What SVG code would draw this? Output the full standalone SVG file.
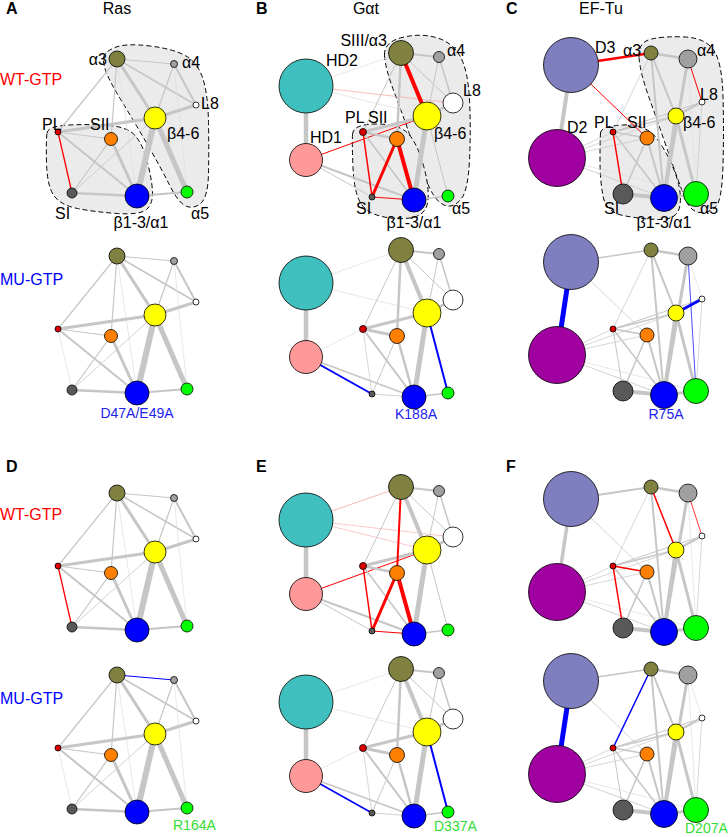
<svg xmlns="http://www.w3.org/2000/svg" width="728" height="837" viewBox="0 0 728 837">
<style>
text{font-family:"Liberation Sans",Arial,sans-serif;font-size:16px;fill:#000}
.pl{font-weight:bold;font-size:16px}
.wt{fill:#ff0000;font-size:16px}
.mu{fill:#0000ff;font-size:16px}
.mb{fill:#2222ee;font-size:14px}
.mg{fill:#33dd33;font-size:14px}
.hull{fill:#ebebeb;stroke:#000;stroke-width:1;stroke-dasharray:5 3}
.e line{stroke:#c6c6c6;fill:none}
.e line.f{stroke:#dedede;stroke-width:0.7}
.e line.r{stroke:#ff0000}
.e line.b{stroke:#0000ff}
.e line.p{stroke:#f5a5a5}
circle{stroke:#000;stroke-width:0.8}
.ol{fill:#808040}.gr{fill:#a0a0a0}.wh{fill:#fff}.ye{fill:#ffff00}.rd{fill:#dd0000}.or{fill:#ff8000}.dg{fill:#595959}.bl{fill:#0000ff}.gn{fill:#00ff00}.tl{fill:#40bfbf}.pk{fill:#ff9999}.d3{fill:#7f7fbf}.d2{fill:#a000a0}
</style>

<!-- Titles and row labels -->
<text class="pl" x="6" y="14">A</text>
<text class="pl" x="256" y="14">B</text>
<text class="pl" x="506" y="14">C</text>
<text class="pl" x="6" y="472">D</text>
<text class="pl" x="256" y="472">E</text>
<text class="pl" x="506" y="472">F</text>
<text x="117" y="14" text-anchor="middle">Ras</text>
<text x="366" y="14" text-anchor="middle">Gαt</text>
<text x="601" y="14" text-anchor="middle">EF-Tu</text>
<text class="wt" x="0" y="85">WT-GTP</text>
<text class="mu" x="0" y="285">MU-GTP</text>
<text class="wt" x="0" y="520">WT-GTP</text>
<text class="mu" x="0" y="704">MU-GTP</text>

<!-- ================= Panel A WT ================= -->
<g id="panelA-WT">
<path class="hull" d="M103.5,58 Q104,52 115,47.5 Q126,43 150,46 Q174,49 186,56 Q198,63 203,79 Q208,95 208.5,122.5 Q209,150 208.5,173 Q208,196 201.5,202.5 Q195,209 187,206.5 Q179,204 169.5,185 Q160,166 146,142 Q132,118 121,100 Q110,82 106.5,73 Q103,64 103.5,58 Z"/>
<path class="hull" d="M47,133 Q48,126 69,125 Q90,124 109,125.5 Q128,127 135.5,136 Q143,145 147.5,162.5 Q152,180 152.5,192 Q153,204 146.5,209.5 Q140,215 117.5,213.5 Q95,212 77.5,208.5 Q60,205 53.5,195 Q47,185 46.5,162.5 Q46,140 47,133 Z"/>
<g id="A1-edges" class="e">
<line x1="117" y1="59" x2="174" y2="64" stroke-width="1"/>
<line x1="117" y1="59" x2="196" y2="105" stroke-width="1.5"/>
<line x1="117" y1="59" x2="155" y2="118" stroke-width="3"/>
<line x1="117" y1="59" x2="58" y2="132" stroke-width="1.2"/>
<line x1="117" y1="59" x2="111" y2="139" stroke-width="1.2"/>
<line class="f" x1="117" y1="59" x2="137" y2="196"/>
<line x1="174" y1="64" x2="196" y2="105" stroke-width="2"/>
<line x1="174" y1="64" x2="155" y2="118" stroke-width="1.2"/>
<line class="f" x1="174" y1="64" x2="187" y2="192"/>
<line x1="155" y1="118" x2="196" y2="105" stroke-width="3"/>
<line x1="155" y1="118" x2="58" y2="132" stroke-width="3"/>
<line x1="155" y1="118" x2="137" y2="196" stroke-width="6"/>
<line x1="155" y1="118" x2="187" y2="192" stroke-width="5"/>
<line x1="155" y1="118" x2="72" y2="193" stroke-width="0.8"/>
<line x1="111" y1="139" x2="72" y2="193" stroke-width="1.2"/>
<line x1="111" y1="139" x2="137" y2="196" stroke-width="3"/>
<line x1="58" y1="132" x2="111" y2="139" stroke-width="1.2"/>
<line x1="58" y1="132" x2="137" y2="196" stroke-width="2"/>
<line x1="72" y1="193" x2="137" y2="196" stroke-width="2.5"/>
<line x1="137" y1="196" x2="187" y2="192" stroke-width="2"/>
<line class="r" x1="58" y1="132" x2="72" y2="193" stroke-width="1.3"/>
</g>
<g id="A1-a3"><circle class="ol" cx="117" cy="59" r="8"/><text x="107" y="65" text-anchor="end">α3</text></g>
<g id="A1-a4"><circle class="gr" cx="174" cy="64" r="3.5"/><text x="182" y="68">α4</text></g>
<g id="A1-L8"><circle class="wh" cx="196" cy="105" r="3"/><text x="201" y="109">L8</text></g>
<g id="A1-b46"><circle class="ye" cx="155" cy="118" r="11"/><text x="167" y="139">β4-6</text></g>
<g id="A1-PL"><circle class="rd" cx="58" cy="132" r="3"/><text x="42" y="130">PL</text></g>
<g id="A1-SII"><circle class="or" cx="111" cy="139" r="6.5"/><text x="90" y="130">SII</text></g>
<g id="A1-SI"><circle class="dg" cx="72" cy="193" r="5"/><text x="55" y="219">SI</text></g>
<g id="A1-b13"><circle class="bl" cx="137" cy="196" r="12"/><text x="141" y="228" text-anchor="middle">β1-3/α1</text></g>
<g id="A1-a5"><circle class="gn" cx="187" cy="192" r="6"/><text x="191" y="219">α5</text></g>
</g>

<!-- ================= Panel A MU ================= -->
<g id="panelA-MU" transform="translate(0,197)">
<g id="A2-edges" class="e">
<line x1="117" y1="59" x2="174" y2="64" stroke-width="1"/>
<line x1="117" y1="59" x2="196" y2="105" stroke-width="1.5"/>
<line x1="117" y1="59" x2="155" y2="118" stroke-width="3"/>
<line x1="117" y1="59" x2="58" y2="132" stroke-width="1.2"/>
<line x1="117" y1="59" x2="111" y2="139" stroke-width="1.2"/>
<line class="f" x1="117" y1="59" x2="137" y2="196"/>
<line x1="174" y1="64" x2="196" y2="105" stroke-width="2"/>
<line x1="174" y1="64" x2="155" y2="118" stroke-width="1.2"/>
<line class="f" x1="174" y1="64" x2="187" y2="192"/>
<line x1="155" y1="118" x2="196" y2="105" stroke-width="3"/>
<line x1="155" y1="118" x2="58" y2="132" stroke-width="3"/>
<line x1="155" y1="118" x2="137" y2="196" stroke-width="6"/>
<line x1="155" y1="118" x2="187" y2="192" stroke-width="5"/>
<line x1="155" y1="118" x2="72" y2="193" stroke-width="0.8"/>
<line x1="111" y1="139" x2="72" y2="193" stroke-width="1.2"/>
<line x1="111" y1="139" x2="137" y2="196" stroke-width="3"/>
<line x1="58" y1="132" x2="111" y2="139" stroke-width="1.2"/>
<line x1="58" y1="132" x2="137" y2="196" stroke-width="2"/>
<line x1="72" y1="193" x2="137" y2="196" stroke-width="2.5"/>
<line x1="137" y1="196" x2="187" y2="192" stroke-width="2"/>
<line class="f" x1="58" y1="132" x2="72" y2="193"/>
</g>
<g id="A2-a3"><circle class="ol" cx="117" cy="59" r="8"/></g>
<g id="A2-a4"><circle class="gr" cx="174" cy="64" r="3.5"/></g>
<g id="A2-L8"><circle class="wh" cx="196" cy="105" r="3"/></g>
<g id="A2-b46"><circle class="ye" cx="155" cy="118" r="11"/></g>
<g id="A2-PL"><circle class="rd" cx="58" cy="132" r="3"/></g>
<g id="A2-SII"><circle class="or" cx="111" cy="139" r="6.5"/></g>
<g id="A2-SI"><circle class="dg" cx="72" cy="193" r="5"/></g>
<g id="A2-b13"><circle class="bl" cx="137" cy="196" r="12"/><text class="mb" x="137" y="221" text-anchor="middle">D47A/E49A</text></g>
<g id="A2-a5"><circle class="gn" cx="187" cy="192" r="6"/></g>
</g>

<!-- ================= Panel D WT ================= -->
<g id="panelD-WT" transform="translate(0,434)">
<g id="D1-edges" class="e">
<line x1="117" y1="59" x2="174" y2="64" stroke-width="1"/>
<line x1="117" y1="59" x2="196" y2="105" stroke-width="1.5"/>
<line x1="117" y1="59" x2="155" y2="118" stroke-width="3"/>
<line x1="117" y1="59" x2="58" y2="132" stroke-width="1.2"/>
<line x1="117" y1="59" x2="111" y2="139" stroke-width="1.2"/>
<line class="f" x1="117" y1="59" x2="137" y2="196"/>
<line x1="174" y1="64" x2="196" y2="105" stroke-width="2"/>
<line x1="174" y1="64" x2="155" y2="118" stroke-width="1.2"/>
<line class="f" x1="174" y1="64" x2="187" y2="192"/>
<line x1="155" y1="118" x2="196" y2="105" stroke-width="3"/>
<line x1="155" y1="118" x2="58" y2="132" stroke-width="3"/>
<line x1="155" y1="118" x2="137" y2="196" stroke-width="6"/>
<line x1="155" y1="118" x2="187" y2="192" stroke-width="5"/>
<line x1="155" y1="118" x2="72" y2="193" stroke-width="0.8"/>
<line x1="111" y1="139" x2="72" y2="193" stroke-width="1.2"/>
<line x1="111" y1="139" x2="137" y2="196" stroke-width="3"/>
<line x1="58" y1="132" x2="111" y2="139" stroke-width="1.2"/>
<line x1="58" y1="132" x2="137" y2="196" stroke-width="2"/>
<line x1="72" y1="193" x2="137" y2="196" stroke-width="2.5"/>
<line x1="137" y1="196" x2="187" y2="192" stroke-width="2"/>
<line class="r" x1="58" y1="132" x2="72" y2="193" stroke-width="1.3"/>
</g>
<g id="D1-a3"><circle class="ol" cx="117" cy="59" r="8"/></g>
<g id="D1-a4"><circle class="gr" cx="174" cy="64" r="3.5"/></g>
<g id="D1-L8"><circle class="wh" cx="196" cy="105" r="3"/></g>
<g id="D1-b46"><circle class="ye" cx="155" cy="118" r="11"/></g>
<g id="D1-PL"><circle class="rd" cx="58" cy="132" r="3"/></g>
<g id="D1-SII"><circle class="or" cx="111" cy="139" r="6.5"/></g>
<g id="D1-SI"><circle class="dg" cx="72" cy="193" r="5"/></g>
<g id="D1-b13"><circle class="bl" cx="137" cy="196" r="12"/></g>
<g id="D1-a5"><circle class="gn" cx="187" cy="192" r="6"/></g>
</g>

<!-- ================= Panel D MU ================= -->
<g id="panelD-MU" transform="translate(0,616)">
<g id="D2-edges" class="e">
<line class="b" x1="117" y1="59" x2="174" y2="64" stroke-width="1"/>
<line x1="117" y1="59" x2="196" y2="105" stroke-width="1.5"/>
<line x1="117" y1="59" x2="155" y2="118" stroke-width="3"/>
<line x1="117" y1="59" x2="58" y2="132" stroke-width="1.2"/>
<line x1="117" y1="59" x2="111" y2="139" stroke-width="1.2"/>
<line class="f" x1="117" y1="59" x2="137" y2="196"/>
<line x1="174" y1="64" x2="196" y2="105" stroke-width="2"/>
<line x1="174" y1="64" x2="155" y2="118" stroke-width="1.2"/>
<line class="f" x1="174" y1="64" x2="187" y2="192"/>
<line x1="155" y1="118" x2="196" y2="105" stroke-width="3"/>
<line x1="155" y1="118" x2="58" y2="132" stroke-width="3"/>
<line x1="155" y1="118" x2="137" y2="196" stroke-width="6"/>
<line x1="155" y1="118" x2="187" y2="192" stroke-width="5"/>
<line x1="155" y1="118" x2="72" y2="193" stroke-width="0.8"/>
<line x1="111" y1="139" x2="72" y2="193" stroke-width="1.2"/>
<line x1="111" y1="139" x2="137" y2="196" stroke-width="3"/>
<line x1="58" y1="132" x2="111" y2="139" stroke-width="1.2"/>
<line x1="58" y1="132" x2="137" y2="196" stroke-width="2"/>
<line x1="72" y1="193" x2="137" y2="196" stroke-width="2.5"/>
<line x1="137" y1="196" x2="187" y2="192" stroke-width="2"/>
<line class="f" x1="58" y1="132" x2="72" y2="193"/>
</g>
<g id="D2-a3"><circle class="ol" cx="117" cy="59" r="8"/></g>
<g id="D2-a4"><circle class="gr" cx="174" cy="64" r="3.5"/></g>
<g id="D2-L8"><circle class="wh" cx="196" cy="105" r="3"/></g>
<g id="D2-b46"><circle class="ye" cx="155" cy="118" r="11"/></g>
<g id="D2-PL"><circle class="rd" cx="58" cy="132" r="3"/></g>
<g id="D2-SII"><circle class="or" cx="111" cy="139" r="6.5"/></g>
<g id="D2-SI"><circle class="dg" cx="72" cy="193" r="5"/></g>
<g id="D2-b13"><circle class="bl" cx="137" cy="196" r="12"/></g>
<g id="D2-a5"><circle class="gn" cx="187" cy="192" r="6"/><text class="mg" x="173" y="214">R164A</text></g>
</g>

<!-- ================= Panel B WT ================= -->
<g id="panelB-WT">
<path class="hull" d="M384.5,55 Q384,42 402,37.5 Q420,33 436,37.5 Q452,42 460,56 Q468,70 469.5,100 Q471,130 469.5,160 Q468,190 461.5,198.5 Q455,207 447.5,206 Q440,205 433.5,195 Q427,185 415.5,151.5 Q404,118 394.5,93 Q385,68 384.5,55 Z"/>
<path class="hull" d="M352.5,134.5 Q353,124 376.5,124 Q400,124 409,134.5 Q418,145 424,167.5 Q430,190 427.5,203 Q425,216 410,218 Q395,220 380,216 Q365,212 359.5,201 Q354,190 353,167.5 Q352,145 352.5,134.5 Z"/>
<g id="B1-edges" class="e">
<line x1="306" y1="86" x2="306" y2="160" stroke-width="4.5"/>
<line class="f" x1="306" y1="86" x2="401" y2="53"/>
<line class="f" x1="306" y1="86" x2="427" y2="116"/>
<line class="p" x1="306" y1="86" x2="453" y2="103" stroke-width="0.7"/>
<line x1="306" y1="160" x2="414" y2="200" stroke-width="2"/>
<line x1="306" y1="160" x2="372" y2="197" stroke-width="1"/>
<line class="r" x1="306" y1="160" x2="427" y2="116" stroke-width="1"/>
<line x1="401" y1="53" x2="439" y2="57" stroke-width="2"/>
<line x1="401" y1="53" x2="453" y2="103" stroke-width="1"/>
<line x1="401" y1="53" x2="363" y2="132" stroke-width="1"/>
<line x1="401" y1="53" x2="397" y2="139" stroke-width="2.5"/>
<line x1="439" y1="57" x2="453" y2="103" stroke-width="1.5"/>
<line x1="439" y1="57" x2="427" y2="116" stroke-width="1"/>
<line x1="427" y1="116" x2="453" y2="103" stroke-width="3"/>
<line x1="427" y1="116" x2="363" y2="132" stroke-width="3"/>
<line x1="427" y1="116" x2="414" y2="200" stroke-width="5"/>
<line x1="427" y1="116" x2="448" y2="196" stroke-width="1"/>
<line x1="363" y1="132" x2="397" y2="139" stroke-width="2.5"/>
<line x1="363" y1="132" x2="414" y2="200" stroke-width="1.5"/>
<line x1="414" y1="200" x2="448" y2="196" stroke-width="1.5"/>
<line class="r" x1="401" y1="53" x2="427" y2="116" stroke-width="4"/>
<line class="r" x1="363" y1="132" x2="372" y2="197" stroke-width="1.5"/>
<line class="r" x1="397" y1="139" x2="372" y2="197" stroke-width="3"/>
<line class="r" x1="397" y1="139" x2="414" y2="200" stroke-width="4"/>
<line class="r" x1="372" y1="197" x2="414" y2="200" stroke-width="1"/>
</g>
<g id="B1-HD2"><circle class="tl" cx="306" cy="86" r="27"/><text x="326" y="66">HD2</text></g>
<g id="B1-HD1"><circle class="pk" cx="306" cy="160" r="16.5"/><text x="310" y="143">HD1</text></g>
<g id="B1-a3"><circle class="ol" cx="401" cy="53" r="12.5"/><text x="387" y="46" text-anchor="end">SIII/α3</text></g>
<g id="B1-a4"><circle class="gr" cx="439" cy="57" r="5.5"/><text x="447" y="56">α4</text></g>
<g id="B1-L8"><circle class="wh" cx="453" cy="103" r="10"/><text x="463" y="96">L8</text></g>
<g id="B1-b46"><circle class="ye" cx="427" cy="116" r="14"/><text x="434" y="139">β4-6</text></g>
<g id="B1-PL"><circle class="rd" cx="363" cy="132" r="3.5"/><text x="345" y="123">PL</text></g>
<g id="B1-SII"><circle class="or" cx="397" cy="139" r="7.5"/><text x="368" y="123">SII</text></g>
<g id="B1-SI"><circle class="dg" cx="372" cy="197" r="3"/><text x="356" y="214">SI</text></g>
<g id="B1-b13"><circle class="bl" cx="414" cy="200" r="12"/><text x="414" y="228" text-anchor="middle">β1-3/α1</text></g>
<g id="B1-a5"><circle class="gn" cx="448" cy="196" r="6"/><text x="452" y="214">α5</text></g>
</g>

<!-- ================= Panel B MU ================= -->
<g id="panelB-MU" transform="translate(0,197)">
<g id="B2-edges" class="e">
<line x1="306" y1="86" x2="306" y2="160" stroke-width="4.5"/>
<line class="f" x1="306" y1="86" x2="401" y2="53"/>
<line class="f" x1="306" y1="86" x2="427" y2="116"/>
<line class="f" x1="306" y1="160" x2="363" y2="132"/>
<line x1="306" y1="160" x2="414" y2="200" stroke-width="1.5"/>
<line x1="401" y1="53" x2="439" y2="57" stroke-width="2"/>
<line x1="401" y1="53" x2="453" y2="103" stroke-width="1"/>
<line x1="401" y1="53" x2="363" y2="132" stroke-width="1"/>
<line x1="401" y1="53" x2="397" y2="139" stroke-width="2.5"/>
<line x1="401" y1="53" x2="427" y2="116" stroke-width="4"/>
<line x1="439" y1="57" x2="453" y2="103" stroke-width="1.5"/>
<line x1="439" y1="57" x2="427" y2="116" stroke-width="1"/>
<line x1="427" y1="116" x2="453" y2="103" stroke-width="3"/>
<line x1="427" y1="116" x2="363" y2="132" stroke-width="3"/>
<line x1="427" y1="116" x2="414" y2="200" stroke-width="5"/>
<line x1="363" y1="132" x2="397" y2="139" stroke-width="3"/>
<line x1="363" y1="132" x2="414" y2="200" stroke-width="2"/>
<line x1="363" y1="132" x2="372" y2="197" stroke-width="0.7"/>
<line x1="397" y1="139" x2="372" y2="197" stroke-width="1"/>
<line x1="397" y1="139" x2="414" y2="200" stroke-width="2.5"/>
<line x1="372" y1="197" x2="414" y2="200" stroke-width="0.8"/>
<line x1="414" y1="200" x2="448" y2="196" stroke-width="1.5"/>
<line class="b" x1="306" y1="160" x2="372" y2="197" stroke-width="2"/>
<line class="b" x1="427" y1="116" x2="448" y2="196" stroke-width="2"/>
</g>
<g id="B2-HD2"><circle class="tl" cx="306" cy="86" r="27"/></g>
<g id="B2-HD1"><circle class="pk" cx="306" cy="160" r="16.5"/></g>
<g id="B2-a3"><circle class="ol" cx="401" cy="53" r="12.5"/></g>
<g id="B2-a4"><circle class="gr" cx="439" cy="57" r="5.5"/></g>
<g id="B2-L8"><circle class="wh" cx="453" cy="103" r="10"/></g>
<g id="B2-b46"><circle class="ye" cx="427" cy="116" r="14"/></g>
<g id="B2-PL"><circle class="rd" cx="363" cy="132" r="3.5"/></g>
<g id="B2-SII"><circle class="or" cx="397" cy="139" r="7.5"/></g>
<g id="B2-SI"><circle class="dg" cx="372" cy="197" r="3"/></g>
<g id="B2-b13"><circle class="bl" cx="414" cy="200" r="12"/><text class="mb" x="416" y="222" text-anchor="middle">K188A</text></g>
<g id="B2-a5"><circle class="gn" cx="448" cy="196" r="6"/></g>
</g>

<!-- ================= Panel E WT ================= -->
<g id="panelE-WT" transform="translate(0,434)">
<g id="E1-edges" class="e">
<line x1="306" y1="86" x2="306" y2="160" stroke-width="4.5"/>
<line class="p" x1="306" y1="86" x2="401" y2="53" stroke-width="0.8"/>
<line class="p" x1="306" y1="86" x2="427" y2="116" stroke-width="0.6"/>
<line class="p" x1="306" y1="86" x2="453" y2="103" stroke-width="0.6"/>
<line x1="306" y1="160" x2="414" y2="200" stroke-width="2"/>
<line x1="306" y1="160" x2="372" y2="197" stroke-width="1"/>
<line class="r" x1="306" y1="160" x2="427" y2="116" stroke-width="1"/>
<line x1="401" y1="53" x2="439" y2="57" stroke-width="2"/>
<line x1="401" y1="53" x2="453" y2="103" stroke-width="1"/>
<line x1="401" y1="53" x2="363" y2="132" stroke-width="1"/>
<line x1="401" y1="53" x2="427" y2="116" stroke-width="4"/>
<line x1="439" y1="57" x2="453" y2="103" stroke-width="1.5"/>
<line x1="439" y1="57" x2="427" y2="116" stroke-width="1"/>
<line x1="427" y1="116" x2="453" y2="103" stroke-width="3"/>
<line x1="427" y1="116" x2="363" y2="132" stroke-width="3"/>
<line x1="427" y1="116" x2="414" y2="200" stroke-width="5"/>
<line x1="427" y1="116" x2="448" y2="196" stroke-width="1"/>
<line x1="363" y1="132" x2="397" y2="139" stroke-width="2.5"/>
<line x1="363" y1="132" x2="414" y2="200" stroke-width="1.5"/>
<line x1="414" y1="200" x2="448" y2="196" stroke-width="1.5"/>
<line class="r" x1="401" y1="53" x2="397" y2="139" stroke-width="2"/>
<line class="r" x1="363" y1="132" x2="372" y2="197" stroke-width="1.5"/>
<line class="r" x1="397" y1="139" x2="372" y2="197" stroke-width="3"/>
<line class="r" x1="397" y1="139" x2="414" y2="200" stroke-width="4"/>
<line class="r" x1="372" y1="197" x2="414" y2="200" stroke-width="1"/>
</g>
<g id="E1-HD2"><circle class="tl" cx="306" cy="86" r="27"/></g>
<g id="E1-HD1"><circle class="pk" cx="306" cy="160" r="16.5"/></g>
<g id="E1-a3"><circle class="ol" cx="401" cy="53" r="12.5"/></g>
<g id="E1-a4"><circle class="gr" cx="439" cy="57" r="5.5"/></g>
<g id="E1-L8"><circle class="wh" cx="453" cy="103" r="10"/></g>
<g id="E1-b46"><circle class="ye" cx="427" cy="116" r="14"/></g>
<g id="E1-PL"><circle class="rd" cx="363" cy="132" r="3.5"/></g>
<g id="E1-SII"><circle class="or" cx="397" cy="139" r="7.5"/></g>
<g id="E1-SI"><circle class="dg" cx="372" cy="197" r="3"/></g>
<g id="E1-b13"><circle class="bl" cx="414" cy="200" r="12"/></g>
<g id="E1-a5"><circle class="gn" cx="448" cy="196" r="6"/></g>
</g>

<!-- ================= Panel E MU ================= -->
<g id="panelE-MU" transform="translate(0,616)">
<g id="E2-edges" class="e">
<line x1="306" y1="86" x2="306" y2="160" stroke-width="4.5"/>
<line class="f" x1="306" y1="86" x2="401" y2="53"/>
<line class="f" x1="306" y1="86" x2="427" y2="116"/>
<line class="f" x1="306" y1="160" x2="363" y2="132"/>
<line x1="306" y1="160" x2="414" y2="200" stroke-width="1.5"/>
<line x1="401" y1="53" x2="439" y2="57" stroke-width="2"/>
<line x1="401" y1="53" x2="453" y2="103" stroke-width="1"/>
<line x1="401" y1="53" x2="363" y2="132" stroke-width="1"/>
<line x1="401" y1="53" x2="397" y2="139" stroke-width="2.5"/>
<line x1="401" y1="53" x2="427" y2="116" stroke-width="4"/>
<line x1="439" y1="57" x2="453" y2="103" stroke-width="1.5"/>
<line x1="439" y1="57" x2="427" y2="116" stroke-width="1"/>
<line x1="427" y1="116" x2="453" y2="103" stroke-width="3"/>
<line x1="427" y1="116" x2="363" y2="132" stroke-width="3"/>
<line x1="427" y1="116" x2="414" y2="200" stroke-width="5"/>
<line x1="363" y1="132" x2="397" y2="139" stroke-width="3"/>
<line x1="363" y1="132" x2="414" y2="200" stroke-width="2"/>
<line x1="363" y1="132" x2="372" y2="197" stroke-width="0.7"/>
<line x1="397" y1="139" x2="372" y2="197" stroke-width="1"/>
<line x1="397" y1="139" x2="414" y2="200" stroke-width="2.5"/>
<line x1="372" y1="197" x2="414" y2="200" stroke-width="0.8"/>
<line x1="414" y1="200" x2="448" y2="196" stroke-width="1.5"/>
<line class="b" x1="306" y1="160" x2="372" y2="197" stroke-width="1.5"/>
<line class="b" x1="427" y1="116" x2="448" y2="196" stroke-width="2"/>
</g>
<g id="E2-HD2"><circle class="tl" cx="306" cy="86" r="27"/></g>
<g id="E2-HD1"><circle class="pk" cx="306" cy="160" r="16.5"/></g>
<g id="E2-a3"><circle class="ol" cx="401" cy="53" r="12.5"/></g>
<g id="E2-a4"><circle class="gr" cx="439" cy="57" r="5.5"/></g>
<g id="E2-L8"><circle class="wh" cx="453" cy="103" r="10"/></g>
<g id="E2-b46"><circle class="ye" cx="427" cy="116" r="14"/></g>
<g id="E2-PL"><circle class="rd" cx="363" cy="132" r="3.5"/></g>
<g id="E2-SII"><circle class="or" cx="397" cy="139" r="7.5"/></g>
<g id="E2-SI"><circle class="dg" cx="372" cy="197" r="3"/></g>
<g id="E2-b13"><circle class="bl" cx="414" cy="200" r="12"/></g>
<g id="E2-a5"><circle class="gn" cx="448" cy="196" r="6"/><text class="mg" x="434" y="215">D337A</text></g>
</g>

<!-- ================= Panel C WT ================= -->
<g id="panelC-WT">
<path class="hull" d="M639,57 Q638,42 651.5,39 Q665,36 685,37 Q705,38 713.5,50 Q722,62 723,96 Q724,130 723,165 Q722,200 716,206.5 Q710,213 700,212.5 Q690,212 684,196 Q678,180 667.5,150 Q657,120 648.5,96 Q640,72 639,57 Z"/>
<path class="hull" d="M600.5,133 Q601,126 623,125 Q645,124 655.5,137 Q666,150 674,170 Q682,190 680,205 Q678,220 659,219.5 Q640,219 623,215.5 Q606,212 603,196 Q600,180 600,160 Q600,140 600.5,133 Z"/>
<g id="C1-edges" class="e">
<line x1="571" y1="65" x2="557" y2="158" stroke-width="4"/>
<line x1="557" y1="158" x2="613" y2="132" stroke-width="0.7"/>
<line x1="557" y1="158" x2="647" y2="138" stroke-width="0.7"/>
<line x1="557" y1="158" x2="676" y2="116" stroke-width="0.7"/>
<line x1="557" y1="158" x2="664" y2="198" stroke-width="0.8"/>
<line class="f" x1="557" y1="158" x2="696" y2="194"/>
<line x1="651" y1="53" x2="688" y2="59" stroke-width="2.5"/>
<line x1="651" y1="53" x2="664" y2="198" stroke-width="2"/>
<line x1="651" y1="53" x2="676" y2="116" stroke-width="2"/>
<line x1="651" y1="53" x2="613" y2="132" stroke-width="0.7"/>
<line x1="688" y1="59" x2="664" y2="198" stroke-width="3"/>
<line class="f" x1="688" y1="59" x2="696" y2="194"/>
<line x1="702" y1="102" x2="676" y2="116" stroke-width="2"/>
<line x1="702" y1="102" x2="613" y2="132" stroke-width="1"/>
<line x1="702" y1="102" x2="696" y2="194" stroke-width="0.7"/>
<line x1="676" y1="116" x2="613" y2="132" stroke-width="1.5"/>
<line x1="676" y1="116" x2="664" y2="198" stroke-width="4"/>
<line x1="676" y1="116" x2="696" y2="194" stroke-width="3"/>
<line x1="613" y1="132" x2="647" y2="138" stroke-width="1.5"/>
<line x1="613" y1="132" x2="664" y2="198" stroke-width="1.5"/>
<line x1="647" y1="138" x2="623" y2="194" stroke-width="1.5"/>
<line x1="647" y1="138" x2="664" y2="198" stroke-width="2"/>
<line x1="623" y1="194" x2="664" y2="198" stroke-width="4"/>
<line x1="664" y1="198" x2="696" y2="194" stroke-width="3"/>
<line class="r" x1="571" y1="65" x2="651" y2="53" stroke-width="2.5"/>
<line class="r" x1="571" y1="65" x2="647" y2="138" stroke-width="1"/>
<line class="r" x1="688" y1="59" x2="702" y2="102" stroke-width="1"/>
<line class="r" x1="613" y1="132" x2="623" y2="194" stroke-width="1.5"/>
</g>
<g id="C1-D3"><circle class="d3" cx="571" cy="65" r="27.5"/><text x="595" y="53">D3</text></g>
<g id="C1-D2"><circle class="d2" cx="557" cy="158" r="28.5"/><text x="567" y="133">D2</text></g>
<g id="C1-a3"><circle class="ol" cx="651" cy="53" r="7"/><text x="623" y="56">α3</text></g>
<g id="C1-a4"><circle class="gr" cx="688" cy="59" r="9"/><text x="697" y="56">α4</text></g>
<g id="C1-L8"><circle class="wh" cx="702" cy="102" r="3"/><text x="700" y="100">L8</text></g>
<g id="C1-b46"><circle class="ye" cx="676" cy="116" r="8"/><text x="683" y="128">β4-6</text></g>
<g id="C1-PL"><circle class="rd" cx="613" cy="132" r="3"/><text x="594" y="128">PL</text></g>
<g id="C1-SII"><circle class="or" cx="647" cy="138" r="7"/><text x="627" y="128">SII</text></g>
<g id="C1-SI"><circle class="dg" cx="623" cy="194" r="10"/><text x="604" y="214">SI</text></g>
<g id="C1-b13"><circle class="bl" cx="664" cy="198" r="13.5"/><text x="664" y="228" text-anchor="middle">β1-3/α1</text></g>
<g id="C1-a5"><circle class="gn" cx="696" cy="194" r="12.5"/><text x="700" y="214">α5</text></g>
</g>

<!-- ================= Panel C MU ================= -->
<g id="panelC-MU" transform="translate(0,197)">
<g id="C2-edges" class="e">
<line x1="557" y1="158" x2="613" y2="132" stroke-width="0.7"/>
<line x1="557" y1="158" x2="647" y2="138" stroke-width="0.7"/>
<line x1="557" y1="158" x2="676" y2="116" stroke-width="0.7"/>
<line x1="557" y1="158" x2="664" y2="198" stroke-width="0.8"/>
<line class="f" x1="557" y1="158" x2="696" y2="194"/>
<line x1="571" y1="65" x2="651" y2="53" stroke-width="1.5"/>
<line x1="571" y1="65" x2="647" y2="138" stroke-width="0.7"/>
<line x1="651" y1="53" x2="688" y2="59" stroke-width="2.5"/>
<line x1="651" y1="53" x2="664" y2="198" stroke-width="2"/>
<line x1="651" y1="53" x2="676" y2="116" stroke-width="2"/>
<line x1="651" y1="53" x2="613" y2="132" stroke-width="0.7"/>
<line x1="688" y1="59" x2="664" y2="198" stroke-width="3"/>
<line class="f" x1="688" y1="59" x2="702" y2="102"/>
<line x1="702" y1="102" x2="613" y2="132" stroke-width="1"/>
<line x1="702" y1="102" x2="696" y2="194" stroke-width="0.7"/>
<line x1="676" y1="116" x2="613" y2="132" stroke-width="1.5"/>
<line x1="676" y1="116" x2="664" y2="198" stroke-width="4"/>
<line x1="676" y1="116" x2="696" y2="194" stroke-width="3"/>
<line x1="613" y1="132" x2="647" y2="138" stroke-width="1.5"/>
<line x1="613" y1="132" x2="664" y2="198" stroke-width="1.5"/>
<line x1="613" y1="132" x2="623" y2="194" stroke-width="1"/>
<line x1="647" y1="138" x2="623" y2="194" stroke-width="1.5"/>
<line x1="647" y1="138" x2="664" y2="198" stroke-width="2"/>
<line x1="623" y1="194" x2="664" y2="198" stroke-width="4"/>
<line x1="664" y1="198" x2="696" y2="194" stroke-width="3"/>
<line class="b" x1="571" y1="65" x2="557" y2="158" stroke-width="5"/>
<line class="b" x1="702" y1="102" x2="676" y2="116" stroke-width="3"/>
<line class="b" x1="688" y1="59" x2="696" y2="194" stroke-width="0.7"/>
</g>
<g id="C2-D3"><circle class="d3" cx="571" cy="65" r="27.5"/></g>
<g id="C2-D2"><circle class="d2" cx="557" cy="158" r="28.5"/></g>
<g id="C2-a3"><circle class="ol" cx="651" cy="53" r="7"/></g>
<g id="C2-a4"><circle class="gr" cx="688" cy="59" r="9"/></g>
<g id="C2-L8"><circle class="wh" cx="702" cy="102" r="3"/></g>
<g id="C2-b46"><circle class="ye" cx="676" cy="116" r="8"/></g>
<g id="C2-PL"><circle class="rd" cx="613" cy="132" r="3"/></g>
<g id="C2-SII"><circle class="or" cx="647" cy="138" r="7"/></g>
<g id="C2-SI"><circle class="dg" cx="623" cy="194" r="10"/></g>
<g id="C2-b13"><circle class="bl" cx="664" cy="198" r="13.5"/><text class="mb" x="666" y="222" text-anchor="middle">R75A</text></g>
<g id="C2-a5"><circle class="gn" cx="696" cy="194" r="12.5"/></g>
</g>

<!-- ================= Panel F WT ================= -->
<g id="panelF-WT" transform="translate(0,434)">
<g id="F1-edges" class="e">
<line x1="571" y1="65" x2="557" y2="158" stroke-width="3.5"/>
<line x1="571" y1="65" x2="651" y2="53" stroke-width="2"/>
<line x1="571" y1="65" x2="647" y2="138" stroke-width="0.7"/>
<line x1="557" y1="158" x2="613" y2="132" stroke-width="0.7"/>
<line x1="557" y1="158" x2="647" y2="138" stroke-width="0.7"/>
<line x1="557" y1="158" x2="676" y2="116" stroke-width="0.7"/>
<line x1="557" y1="158" x2="664" y2="198" stroke-width="0.8"/>
<line class="f" x1="557" y1="158" x2="696" y2="194"/>
<line x1="651" y1="53" x2="688" y2="59" stroke-width="2.5"/>
<line x1="651" y1="53" x2="664" y2="198" stroke-width="2"/>
<line x1="651" y1="53" x2="613" y2="132" stroke-width="0.7"/>
<line x1="688" y1="59" x2="664" y2="198" stroke-width="3"/>
<line class="f" x1="688" y1="59" x2="696" y2="194"/>
<line x1="702" y1="102" x2="676" y2="116" stroke-width="2"/>
<line x1="702" y1="102" x2="613" y2="132" stroke-width="1"/>
<line x1="702" y1="102" x2="696" y2="194" stroke-width="0.7"/>
<line x1="676" y1="116" x2="613" y2="132" stroke-width="1.5"/>
<line x1="676" y1="116" x2="664" y2="198" stroke-width="4"/>
<line x1="676" y1="116" x2="696" y2="194" stroke-width="3"/>
<line x1="613" y1="132" x2="664" y2="198" stroke-width="1.5"/>
<line x1="647" y1="138" x2="623" y2="194" stroke-width="1.5"/>
<line x1="647" y1="138" x2="664" y2="198" stroke-width="2"/>
<line x1="623" y1="194" x2="664" y2="198" stroke-width="4"/>
<line x1="664" y1="198" x2="696" y2="194" stroke-width="3"/>
<line class="r" x1="651" y1="53" x2="676" y2="116" stroke-width="1.5"/>
<line class="r" x1="688" y1="59" x2="702" y2="102" stroke-width="0.8"/>
<line class="r" x1="613" y1="132" x2="647" y2="138" stroke-width="1.5"/>
<line class="r" x1="613" y1="132" x2="623" y2="194" stroke-width="1.5"/>
</g>
<g id="F1-D3"><circle class="d3" cx="571" cy="65" r="27.5"/></g>
<g id="F1-D2"><circle class="d2" cx="557" cy="158" r="28.5"/></g>
<g id="F1-a3"><circle class="ol" cx="651" cy="53" r="7"/></g>
<g id="F1-a4"><circle class="gr" cx="688" cy="59" r="9"/></g>
<g id="F1-L8"><circle class="wh" cx="702" cy="102" r="3"/></g>
<g id="F1-b46"><circle class="ye" cx="676" cy="116" r="8"/></g>
<g id="F1-PL"><circle class="rd" cx="613" cy="132" r="3"/></g>
<g id="F1-SII"><circle class="or" cx="647" cy="138" r="7"/></g>
<g id="F1-SI"><circle class="dg" cx="623" cy="194" r="10"/></g>
<g id="F1-b13"><circle class="bl" cx="664" cy="198" r="13.5"/></g>
<g id="F1-a5"><circle class="gn" cx="696" cy="194" r="12.5"/></g>
</g>

<!-- ================= Panel F MU ================= -->
<g id="panelF-MU" transform="translate(0,616)">
<g id="F2-edges" class="e">
<line x1="571" y1="65" x2="651" y2="53" stroke-width="1.5"/>
<line x1="571" y1="65" x2="647" y2="138" stroke-width="0.7"/>
<line x1="557" y1="158" x2="613" y2="132" stroke-width="0.7"/>
<line x1="557" y1="158" x2="647" y2="138" stroke-width="0.7"/>
<line x1="557" y1="158" x2="676" y2="116" stroke-width="0.7"/>
<line x1="557" y1="158" x2="664" y2="198" stroke-width="0.8"/>
<line class="f" x1="557" y1="158" x2="696" y2="194"/>
<line x1="651" y1="53" x2="688" y2="59" stroke-width="2.5"/>
<line x1="651" y1="53" x2="664" y2="198" stroke-width="2"/>
<line x1="651" y1="53" x2="676" y2="116" stroke-width="2"/>
<line x1="688" y1="59" x2="664" y2="198" stroke-width="3"/>
<line class="f" x1="688" y1="59" x2="702" y2="102"/>
<line class="f" x1="688" y1="59" x2="696" y2="194"/>
<line x1="702" y1="102" x2="676" y2="116" stroke-width="2"/>
<line x1="702" y1="102" x2="613" y2="132" stroke-width="1"/>
<line x1="702" y1="102" x2="696" y2="194" stroke-width="0.7"/>
<line x1="676" y1="116" x2="613" y2="132" stroke-width="1.5"/>
<line x1="676" y1="116" x2="664" y2="198" stroke-width="4"/>
<line x1="676" y1="116" x2="696" y2="194" stroke-width="3"/>
<line x1="613" y1="132" x2="647" y2="138" stroke-width="1.5"/>
<line x1="613" y1="132" x2="664" y2="198" stroke-width="1.5"/>
<line x1="613" y1="132" x2="623" y2="194" stroke-width="1"/>
<line x1="647" y1="138" x2="623" y2="194" stroke-width="1.5"/>
<line x1="647" y1="138" x2="664" y2="198" stroke-width="2"/>
<line x1="623" y1="194" x2="664" y2="198" stroke-width="4"/>
<line x1="664" y1="198" x2="696" y2="194" stroke-width="3"/>
<line class="b" x1="571" y1="65" x2="557" y2="158" stroke-width="5"/>
<line class="b" x1="651" y1="53" x2="613" y2="132" stroke-width="1.5"/>
</g>
<g id="F2-D3"><circle class="d3" cx="571" cy="65" r="27.5"/></g>
<g id="F2-D2"><circle class="d2" cx="557" cy="158" r="28.5"/></g>
<g id="F2-a3"><circle class="ol" cx="651" cy="53" r="7"/></g>
<g id="F2-a4"><circle class="gr" cx="688" cy="59" r="9"/></g>
<g id="F2-L8"><circle class="wh" cx="702" cy="102" r="3"/></g>
<g id="F2-b46"><circle class="ye" cx="676" cy="116" r="8"/></g>
<g id="F2-PL"><circle class="rd" cx="613" cy="132" r="3"/></g>
<g id="F2-SII"><circle class="or" cx="647" cy="138" r="7"/></g>
<g id="F2-SI"><circle class="dg" cx="623" cy="194" r="10"/></g>
<g id="F2-b13"><circle class="bl" cx="664" cy="198" r="13.5"/></g>
<g id="F2-a5"><circle class="gn" cx="696" cy="194" r="12.5"/><text class="mg" x="685" y="217">D207A</text></g>
</g>
</svg>
